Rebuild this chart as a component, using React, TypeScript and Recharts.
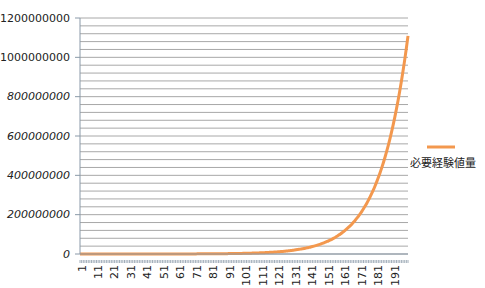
import { LineChart, Line, XAxis, YAxis, CartesianGrid, Legend } from "recharts";

// 必要経験値量 for levels 1..200
const expValues = [
  10200, 10800, 11500, 12200, 12900, 13700, 14500, 15400, 16300, 17300,
  18300, 19400, 20600, 21800, 23100, 24500, 26000, 27500, 29200, 30900,
  32800, 34700, 36800, 39000, 41400, 43900, 46500, 49300, 52200, 55400,
  58700, 62200, 65900, 69900, 74100, 78500, 83200, 88200, 93500, 99100,
  105000, 111000, 118000, 125000, 133000, 141000, 149000, 158000, 168000, 178000,
  188000, 199000, 211000, 224000, 238000, 252000, 267000, 283000, 300000, 318000,
  337000, 357000, 379000, 401000, 425000, 451000, 478000, 507000, 537000, 569000,
  604000, 640000, 678000, 719000, 762000, 808000, 856000, 907000, 962000, 1020000,
  1080000, 1150000, 1210000, 1290000, 1360000, 1450000, 1530000, 1630000, 1720000, 1830000,
  1940000, 2050000, 2170000, 2310000, 2440000, 2590000, 2750000, 2910000, 3090000, 3270000,
  3470000, 3670000, 3890000, 4130000, 4380000, 4640000, 4920000, 5210000, 5520000, 5860000,
  6210000, 6580000, 6970000, 7390000, 7840000, 8310000, 8810000, 9330000, 9890000, 10500000,
  11100000, 11800000, 12500000, 13200000, 14000000, 14900000, 15800000, 16700000, 17700000, 18800000,
  19900000, 21100000, 22400000, 23700000, 25100000, 26600000, 28200000, 29900000, 31700000, 33600000,
  35600000, 37800000, 40100000, 42500000, 45000000, 47700000, 50600000, 53600000, 56800000, 60200000,
  63800000, 67700000, 71700000, 76000000, 80600000, 85400000, 90600000, 96000000, 101800000, 107900000,
  114300000, 121200000, 128500000, 136200000, 144300000, 153000000, 162200000, 171900000, 182200000, 193100000,
  204700000, 217000000, 230000000, 243800000, 258500000, 274000000, 290400000, 307800000, 326300000, 345900000,
  366600000, 388600000, 412000000, 436700000, 462900000, 490600000, 520100000, 551300000, 584400000, 619400000,
  656600000, 695900000, 737700000, 782000000, 828900000, 878600000, 931300000, 987200000, 1046500000, 1109200000,
];

// gridlines every 40M, labels every 200M
const yTicks = [
  0, 40000000, 80000000, 120000000, 160000000, 200000000, 240000000, 280000000,
  320000000, 360000000, 400000000, 440000000, 480000000, 520000000, 560000000,
  600000000, 640000000, 680000000, 720000000, 760000000, 800000000, 840000000,
  880000000, 920000000, 960000000, 1000000000, 1040000000, 1080000000, 1120000000,
  1160000000, 1200000000,
];

const seriesName = "必要経験値量";
const data = expValues.map((v, i) => ({ level: String(i + 1), exp: v }));

const FONT = "'DejaVu Sans', sans-serif";
const AXIS = "#8a99a8";
const ORANGE = "#f3984e";

function YTick(props: any) {
  const { x, y, payload } = props;
  const v = payload.value as number;
  if (v % 200000000 !== 0) return null;
  return (
    <g>
      <line x1={x + 3} x2={x + 8} y1={y} y2={y} stroke={AXIS} />
      <text
        x={x - 2}
        y={y}
        textAnchor="end"
        dominantBaseline="central"
        fontSize={11}
        fontFamily={FONT}
        fontStyle={v < 1000000000 ? "italic" : "normal"}
        fill="#222"
      >
        {String(v)}
      </text>
    </g>
  );
}

function XTick(props: any) {
  const { x, y, index, payload } = props;
  return (
    <g>
      <line x1={x} x2={x} y1={y - 2} y2={y + 1} stroke={AXIS} strokeWidth={0.8} />
      {index % 10 === 0 && (
        <text
          x={x + 2}
          y={y + 3}
          transform={`rotate(-90, ${x + 2}, ${y + 3})`}
          textAnchor="end"
          dominantBaseline="central"
          fontSize={11}
          fontFamily={FONT}
          fill="#222"
        >
          {payload.value}
        </text>
      )}
    </g>
  );
}

function LegendBox() {
  return (
    <div style={{ width: 80, textAlign: "center", fontFamily: "'Noto Sans CJK JP', sans-serif", fontSize: 11, color: "#222" }}>
      <svg width={80} height={10} style={{ display: "block" }}>
        <line x1={24} x2={52} y1={5} y2={5} stroke={ORANGE} strokeWidth={3} />
      </svg>
      <div style={{ marginTop: 3, lineHeight: "14px" }}>{seriesName}</div>
    </div>
  );
}

export default function App() {
  return (
    <div style={{ position: "absolute", left: 0, top: 0, width: 485, height: 288, background: "#fff" }}>
      <LineChart width={485} height={288} data={data} margin={{ top: 18, right: 77, bottom: 0, left: 0 }}>
        <CartesianGrid vertical={false} stroke="#a8a8a8" strokeWidth={1} />
        <XAxis
          dataKey="level"
          interval={0}
          height={34}
          tickLine={false}
          tick={<XTick />}
          axisLine={{ stroke: AXIS }}
        />
        <YAxis
          width={80}
          domain={[0, 1200000000]}
          ticks={yTicks}
          interval={0}
          tickLine={false}
          tick={<YTick />}
          axisLine={{ stroke: AXIS }}
          tickSize={5}
          tickMargin={3}
        />
        <Legend
          layout="vertical"
          align="center"
          verticalAlign="middle"
          wrapperStyle={{ left: 403, top: 142, width: 80 }}
          content={() => <LegendBox />}
        />
        <Line
          type="monotone"
          dataKey="exp"
          name={seriesName}
          stroke={ORANGE}
          strokeWidth={3}
          dot={false}
          isAnimationActive={false}
        />
      </LineChart>
    </div>
  );
}
